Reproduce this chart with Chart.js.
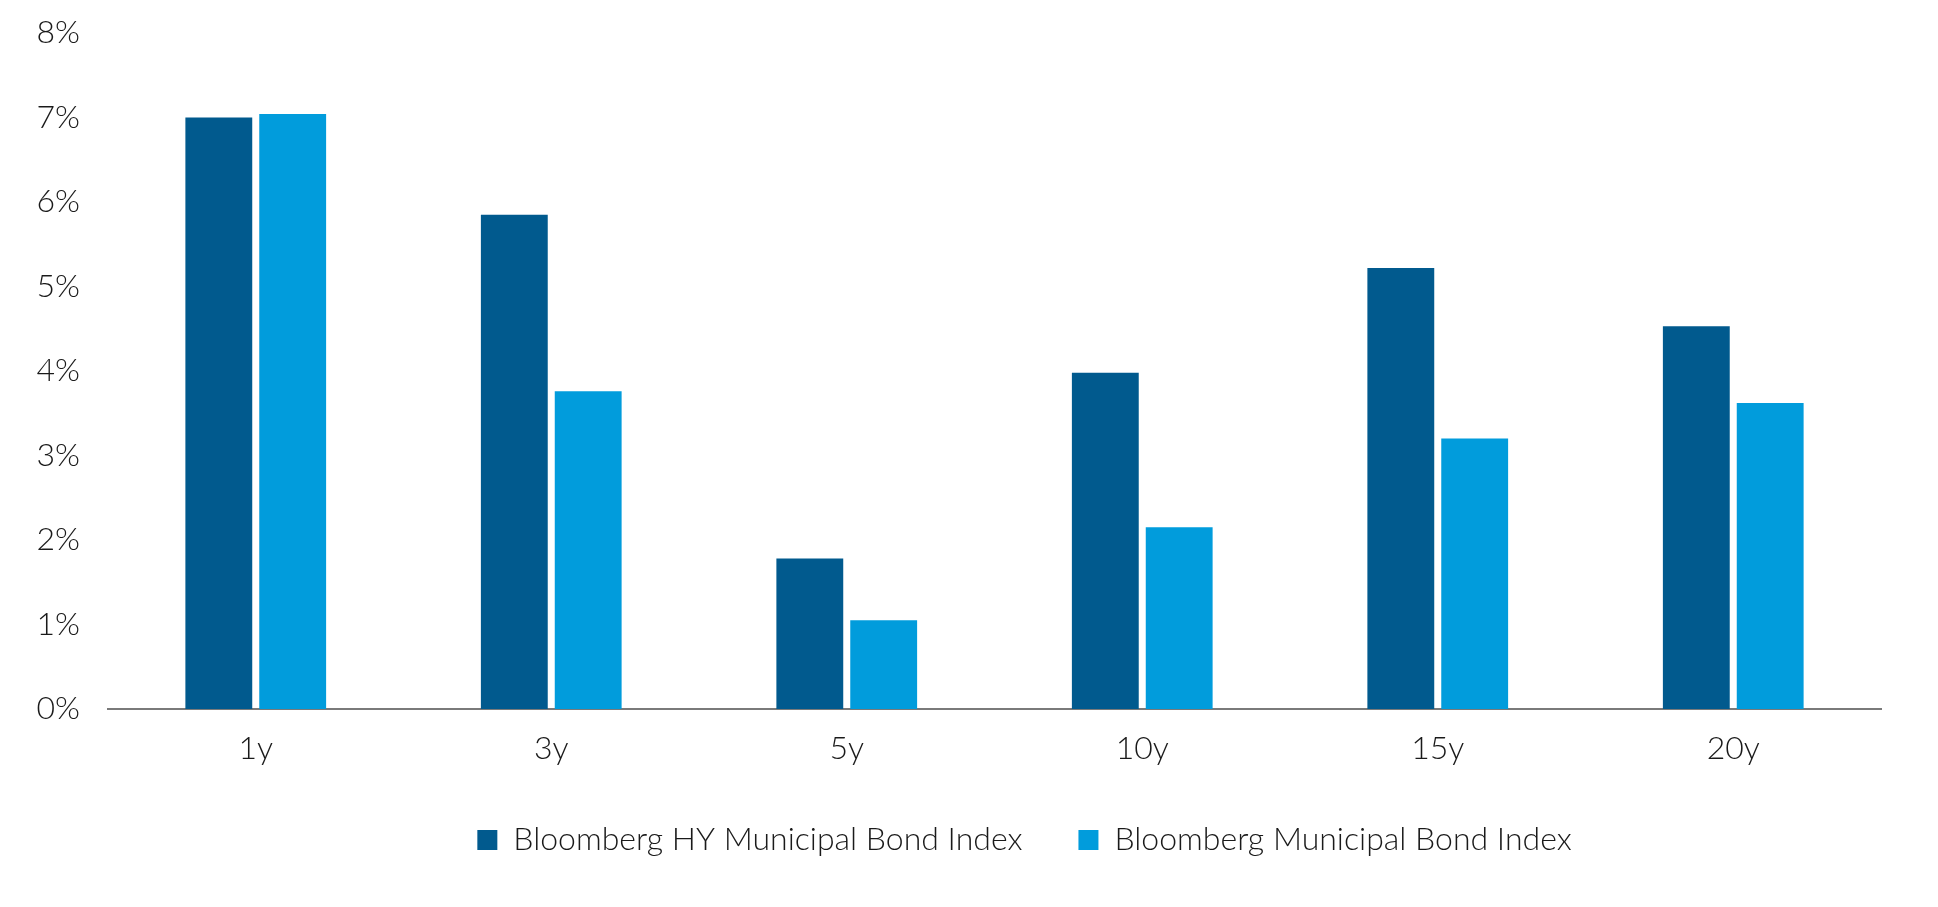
<!DOCTYPE html>
<html>
<head>
<meta charset="utf-8">
<script src="https://cdn.jsdelivr.net/npm/chart.js@4.4.1/dist/chart.umd.min.js"></script>
<style>
html,body{margin:0;padding:0;background:#fff;}
#wrap{width:1938px;height:907px;}
</style>
</head>
<body>
<div id="wrap"><canvas id="c" width="1938" height="907"></canvas></div>
<script>
const categories = ["1y", "3y", "5y", "10y", "15y", "20y"];
const hyValues = [7.00, 5.85, 1.78, 3.98, 5.22, 4.53];
const muniValues = [7.04, 3.76, 1.05, 2.15, 3.20, 3.62];
const seriesNames = ["Bloomberg HY Municipal Bond Index", "Bloomberg Municipal Bond Index"];
const yTicks = [0, 1, 2, 3, 4, 5, 6, 7, 8];

const FONT = "Lato, 'Open Sans', 'Noto Sans', sans-serif";
const LEGEND_SHIFT = 84;

const legendShift = {
  id: 'legendShift',
  afterLayout(chart) {
    const l = chart.legend;
    if (l) { l.left += LEGEND_SHIFT; l.right += LEGEND_SHIFT; }
  }
};

new Chart(document.getElementById('c'), {
  type: 'bar',
  data: {
    labels: categories,
    datasets: [
      { label: seriesNames[0], data: hyValues, backgroundColor: '#015A8E', categoryPercentage: 0.5, barPercentage: 0.905 },
      { label: seriesNames[1], data: muniValues, backgroundColor: '#019CDC', categoryPercentage: 0.5, barPercentage: 0.905 }
    ]
  },
  plugins: [legendShift],
  options: {
    responsive: false,
    animation: false,
    layout: { padding: { top: 33, right: 57, bottom: 41, left: 0 } },
    plugins: {
      tooltip: { enabled: false },
      legend: {
        position: 'bottom',
        labels: {
          font: { family: FONT, size: 32, weight: 300 },
          color: '#1a1a1a',
          boxWidth: 20,
          boxHeight: 20,
          padding: 56
        }
      }
    },
    scales: {
      x: {
        grid: { display: false, drawTicks: false },
        border: { display: true, color: '#7a7a7a', width: 2 },
        ticks: { font: { family: FONT, size: 32, weight: 300 }, color: '#1a1a1a', padding: 20 },
        afterFit: (s) => { s.height = 59; }
      },
      y: {
        min: 0,
        max: 8,
        afterBuildTicks: (s) => { s.ticks = yTicks.map(v => ({ value: v })); },
        grid: { display: false, drawTicks: true, tickLength: 28 },
        border: { display: false },
        ticks: { font: { family: FONT, size: 32, weight: 300 }, color: '#1a1a1a', padding: 0, callback: (v) => v + '%' },
        afterFit: (s) => { s.width = 108; }
      }
    }
  }
});
</script>
</body>
</html>
